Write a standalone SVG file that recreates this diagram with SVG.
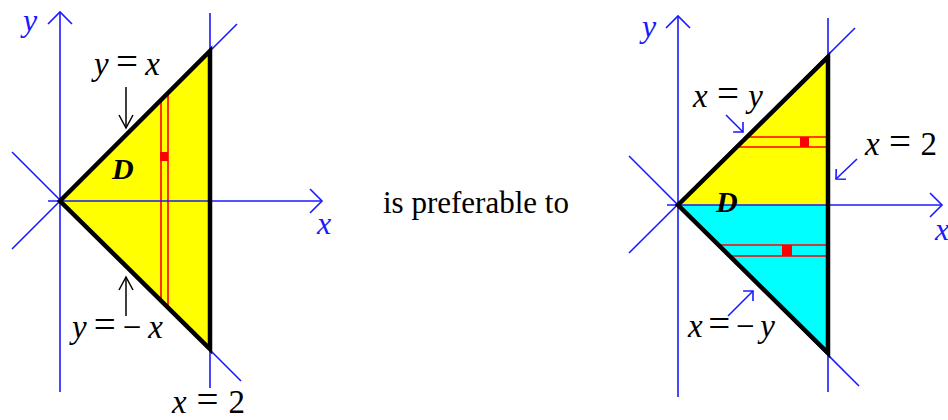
<svg xmlns="http://www.w3.org/2000/svg" width="948" height="420" viewBox="0 0 948 420">
<style>
.ax{stroke:#1a1aff;stroke-width:1.6;fill:none}
.edge{stroke:#000;stroke-width:4.5;fill:none;stroke-linejoin:miter}
.red{stroke:#ff0000;stroke-width:1.6;fill:none}
.sq{fill:#ff0000}
.math{font-size:33px;fill:#000}
.it{font-style:italic}
.eq{font-size:39px}
.axl{font-size:32px;font-style:italic;fill:#1a1aff}
.dl{font-size:30px;font-style:italic;font-weight:bold;fill:#000}
.cap{font-size:31px;fill:#000}
.barrow{stroke:#000;stroke-width:1.5;fill:none}
.blarrow{stroke:#1a1aff;stroke-width:1.6;fill:none}
</style>
<defs>
<marker id="axhead" markerUnits="userSpaceOnUse" markerWidth="26" markerHeight="26" refX="12" refY="12" orient="auto" viewBox="0 0 26 26" overflow="visible">
<path d="M0,0 L12,12 L0,24" fill="none" stroke="#1a1aff" stroke-width="1.6"/>
</marker>
<marker id="bhead" markerUnits="userSpaceOnUse" markerWidth="16" markerHeight="16" refX="13" refY="7" orient="auto" viewBox="0 0 16 14" overflow="visible">
<path d="M0,0 L13,7 L0,14" fill="none" stroke="#000" stroke-width="1.5"/>
</marker>
<marker id="blhead" markerUnits="userSpaceOnUse" markerWidth="14" markerHeight="16" refX="10" refY="7" orient="auto" viewBox="0 0 14 14" overflow="visible">
<path d="M3,0 L10,7 L3,14" fill="none" stroke="#1a1aff" stroke-width="1.6"/>
</marker>
</defs>

<g id="left-diagram">
  <g id="left-guides">
    <line class="ax" x1="12" y1="152" x2="241" y2="381"/>
    <line class="ax" x1="12" y1="249" x2="237" y2="24"/>
    <line class="ax" x1="210" y1="13" x2="210" y2="388"/>
  </g>
  <polygon id="left-region" points="60,201 210,51 210,349" fill="#ffff00"/>
  <g id="left-strip">
    <line class="red" x1="161" y1="100" x2="161" y2="302"/>
    <line class="red" x1="168" y1="93" x2="168" y2="309"/>
    <rect class="sq" x="160" y="152" width="8" height="9"/>
  </g>
  <g id="left-axes">
    <line class="ax" x1="60" y1="392" x2="60" y2="12" marker-end="url(#axhead)"/>
    <line class="ax" x1="48" y1="201" x2="322" y2="201" marker-end="url(#axhead)"/>
  </g>
  <polygon class="edge" points="60,201 210,51 210,349"/>
  <text class="axl" x="23" y="31" font-family="Liberation Serif, serif">y</text>
  <text class="axl" x="317" y="234" font-family="Liberation Serif, serif">x</text>
  <text class="dl" x="112" y="179" font-family="Liberation Serif, serif">D</text>
  <text class="math" x="94" y="75" textLength="66" lengthAdjust="spacing" font-family="Liberation Serif, serif"><tspan class="it">y</tspan><tspan class="eq">=</tspan><tspan class="it">x</tspan></text>
  <text class="math" x="72" y="338" textLength="91" lengthAdjust="spacing" font-family="Liberation Serif, serif"><tspan class="it">y</tspan><tspan class="eq">=</tspan>−<tspan class="it">x</tspan></text>
  <text class="math" x="172" y="413" textLength="73" lengthAdjust="spacing" font-family="Liberation Serif, serif"><tspan class="it">x</tspan><tspan class="eq">=</tspan>2</text>
</g>

<g id="connectors">
  <line class="barrow" x1="126" y1="87" x2="126" y2="128" marker-end="url(#bhead)"/>
  <line class="barrow" x1="126" y1="316" x2="126" y2="277" marker-end="url(#bhead)"/>
  <line class="blarrow" x1="726" y1="115" x2="743" y2="132" marker-end="url(#blhead)"/>
  <line class="blarrow" x1="857" y1="159" x2="836" y2="179" marker-end="url(#blhead)"/>
  <line class="blarrow" x1="728" y1="316" x2="753" y2="291" marker-end="url(#blhead)"/>
</g>

<g id="caption">
  <text class="cap" x="383" y="213" font-family="Liberation Serif, serif">is preferable to</text>
</g>

<g id="right-diagram">
  <g id="right-guides">
    <line class="ax" x1="629" y1="156" x2="859" y2="386"/>
    <line class="ax" x1="629" y1="253" x2="855" y2="28"/>
    <line class="ax" x1="828" y1="18" x2="828" y2="392"/>
  </g>
  <polygon id="right-upper" points="678,205 828,57 828,205" fill="#ffff00"/>
  <polygon id="right-lower" points="678,205 828,205 828,353" fill="#00ffff"/>
  <g id="right-strips">
    <line class="red" x1="746" y1="137" x2="828" y2="137"/>
    <line class="red" x1="736" y1="147" x2="828" y2="147"/>
    <rect class="sq" x="800" y="137" width="9" height="10"/>
    <line class="red" x1="718" y1="245" x2="828" y2="245"/>
    <line class="red" x1="729" y1="256" x2="828" y2="256"/>
    <rect class="sq" x="782" y="245" width="10" height="11"/>
  </g>
  <g id="right-axes">
    <line class="ax" x1="678" y1="397" x2="678" y2="16" marker-end="url(#axhead)"/>
    <line class="ax" x1="667" y1="205" x2="942" y2="205" marker-end="url(#axhead)"/>
  </g>
  <polygon class="edge" points="678,205 828,57 828,353"/>
  <text class="axl" x="642" y="37" font-family="Liberation Serif, serif">y</text>
  <text class="axl" x="935" y="240" font-family="Liberation Serif, serif">x</text>
  <text class="dl" x="716" y="212" font-family="Liberation Serif, serif">D</text>
  <text class="math" x="693" y="107" textLength="70" lengthAdjust="spacing" font-family="Liberation Serif, serif"><tspan class="it">x</tspan><tspan class="eq">=</tspan><tspan class="it">y</tspan></text>
  <text class="math" x="865" y="155" textLength="72" lengthAdjust="spacing" font-family="Liberation Serif, serif"><tspan class="it">x</tspan><tspan class="eq">=</tspan>2</text>
  <text class="math" x="688" y="337" textLength="87" lengthAdjust="spacing" font-family="Liberation Serif, serif"><tspan class="it">x</tspan><tspan class="eq">=</tspan>−<tspan class="it">y</tspan></text>
</g>
</svg>
